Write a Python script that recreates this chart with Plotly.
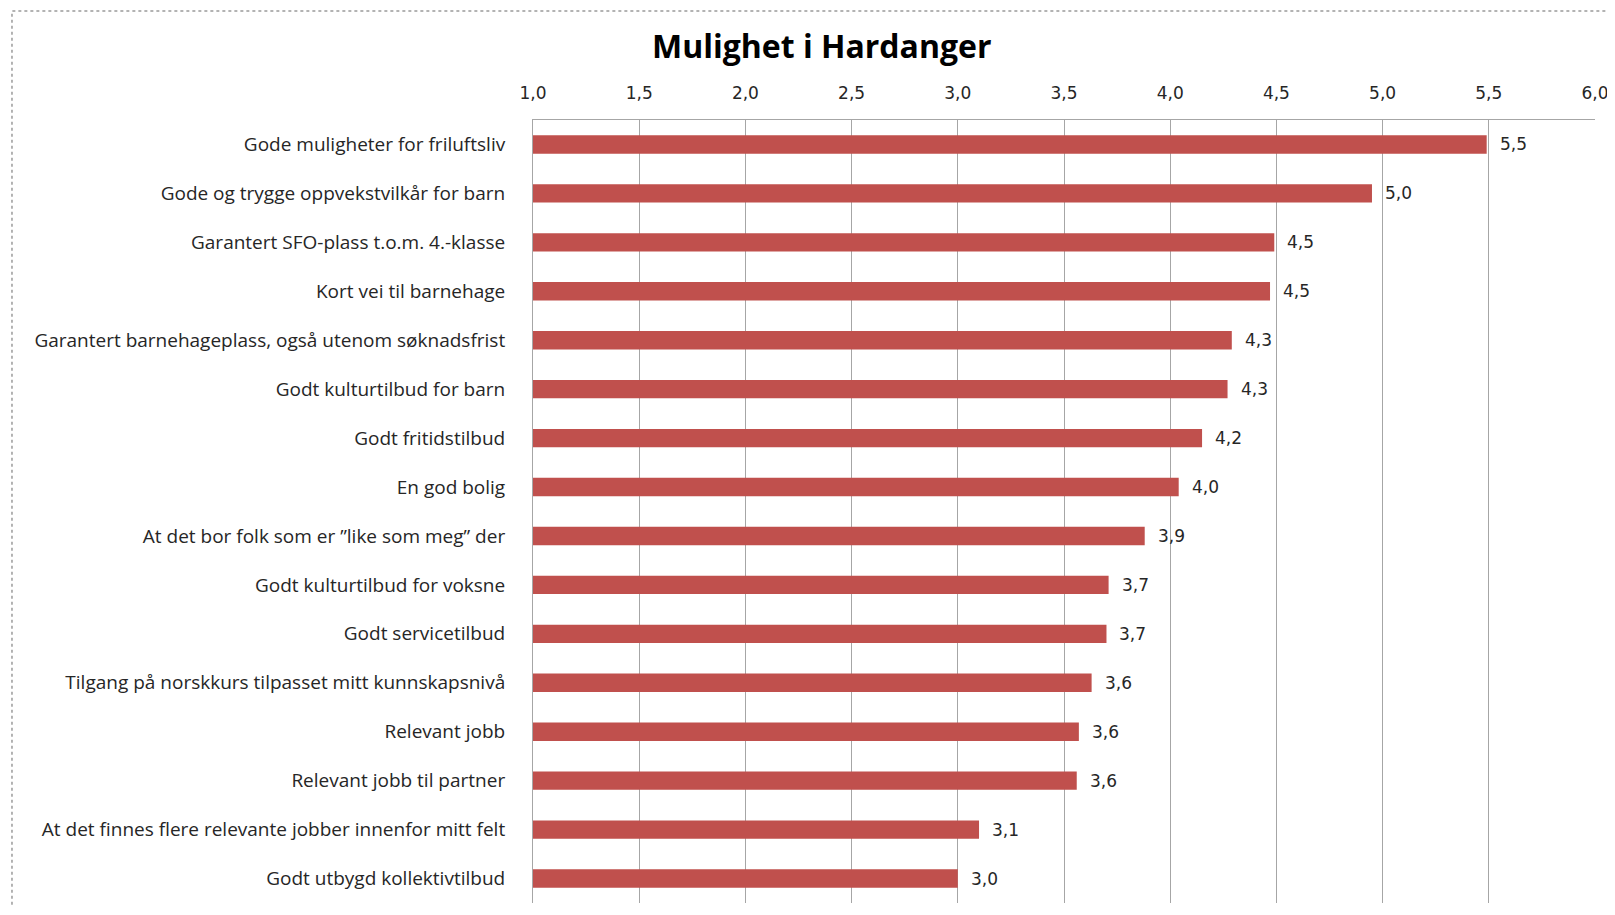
import plotly.graph_objects as go

categories = [
    "Gode muligheter for friluftsliv",
    "Gode og trygge oppvekstvilkår for barn",
    "Garantert SFO-plass t.o.m. 4.-klasse",
    "Kort vei til barnehage",
    "Garantert barnehageplass, også utenom søknadsfrist",
    "Godt kulturtilbud for barn",
    "Godt fritidstilbud",
    "En god bolig",
    "At det bor folk som er ”like som meg” der",
    "Godt kulturtilbud for voksne",
    "Godt servicetilbud",
    "Tilgang på norskkurs tilpasset mitt kunnskapsnivå",
    "Relevant jobb",
    "Relevant jobb til partner",
    "At det finnes flere relevante jobber innenfor mitt felt",
    "Godt utbygd kollektivtilbud",
]
values = [5.49, 4.95, 4.49, 4.47, 4.29, 4.27, 4.15, 4.04, 3.88, 3.71, 3.70, 3.63, 3.57, 3.56, 3.10, 3.00]
tick_vals = [1.0, 1.5, 2.0, 2.5, 3.0, 3.5, 4.0, 4.5, 5.0, 5.5, 6.0]

BAR = "#C0504D"
GRID = "#A6A6A6"
TEXT = "#262626"

fig = go.Figure()
fig.add_trace(go.Bar(
    x=values, y=categories, orientation="h",
    marker=dict(color=BAR, line=dict(width=0)),
    width=0.375, hoverinfo="x+y",
))

for c, v in zip(categories, values):
    fig.add_annotation(
        x=v, y=c, text=f"{v:.1f}".replace(".", ","), showarrow=False,
        xanchor="left", yanchor="middle", xshift=11,
        font=dict(family="DejaVu Sans", size=17, color=TEXT),
    )

# outer frame of the chart (dotted grey)
fig.add_shape(type="rect", xref="paper", yref="paper",
              x0=-0.4906, x1=1.05, y0=-0.05, y1=1.1392,
              line=dict(color="#9A9A9A", width=1.5, dash="dot"), layer="below")

fig.update_layout(
    width=1605, height=899,
    margin=dict(l=525, r=18, t=112, b=4),
    paper_bgcolor="white", plot_bgcolor="white",
    separators=",.",
    showlegend=False,
    title=dict(text="<b>Mulighet i Hardanger</b>", x=0.507, xanchor="center",
               y=0.9566, yanchor="middle",
               font=dict(family="Open Sans", size=32, color="#000000")),
    xaxis=dict(
        side="top", range=[1, 6], tickvals=tick_vals, tickformat=".1f",
        showgrid=True, gridcolor=GRID, gridwidth=1,
        showline=True, linecolor=GRID, linewidth=1,
        ticks="", ticklabelstandoff=13, ticklabeloverflow="allow",
        tickfont=dict(family="DejaVu Sans", size=17, color=TEXT),
        zeroline=False, fixedrange=True,
    ),
    yaxis=dict(
        categoryorder="array", categoryarray=categories[::-1],
        showline=True, linecolor=GRID, linewidth=1,
        showgrid=False, ticks="", ticklabelstandoff=23,
        tickfont=dict(family="Open Sans", size=19, color=TEXT),
        fixedrange=True,
    ),
)

fig.write_html("out.html")
